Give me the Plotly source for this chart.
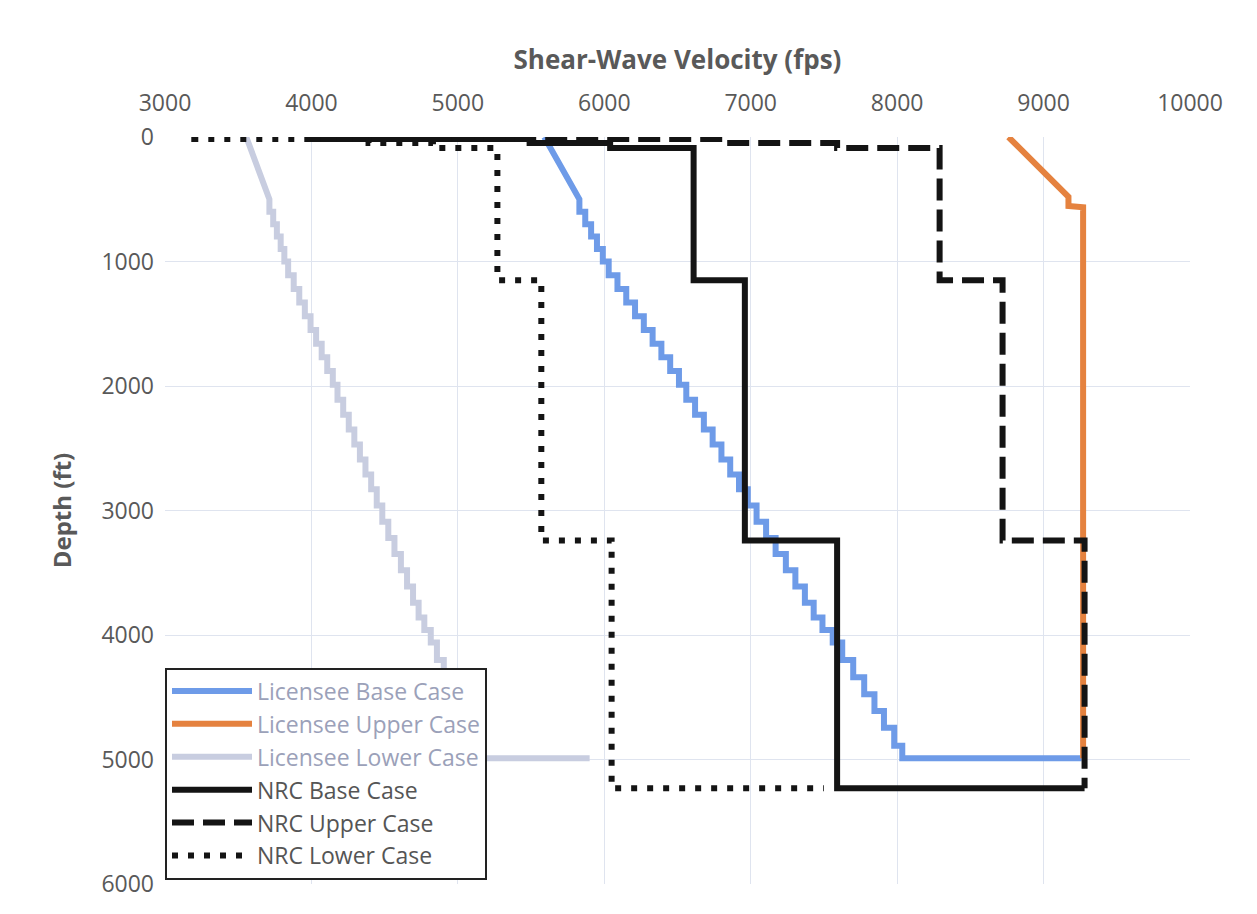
import plotly.graph_objects as go

# ---------------- data ----------------
# Licensee profiles: near-surface gradient points, then layered staircase
lic_grad_depth = [0, 500]
lic_base_grad_vel = [5590, 5830]
lic_lower_grad_vel = [3555, 3710]

lic_layer_tops = [500, 600, 700, 800, 900, 1000, 1110, 1220, 1330, 1440, 1550,
                  1660, 1770, 1880, 1990, 2110, 2230, 2350, 2470, 2590, 2710,
                  2830, 2960, 3090, 3220, 3350, 3480, 3610, 3740, 3860, 3960,
                  4060, 4200, 4340, 4475, 4610, 4745, 4890]
lic_base_vel = [5830, 5870, 5910, 5950, 5990, 6030, 6090, 6150, 6210, 6270, 6330,
                6390, 6450, 6510, 6560, 6620, 6680, 6740, 6800, 6860, 6920,
                6980, 7040, 7105, 7170, 7240, 7305, 7370, 7430, 7490, 7560,
                7625, 7700, 7775, 7845, 7910, 7980, 8035]
lic_lower_vel = [3713, 3739, 3764, 3790, 3815, 3841, 3879, 3917, 3955, 3994, 4032,
                 4070, 4108, 4146, 4178, 4217, 4255, 4293, 4331, 4369, 4408,
                 4446, 4484, 4525, 4567, 4611, 4653, 4694, 4732, 4771, 4815,
                 4857, 4904, 4952, 4997, 5038, 5083, 5118]
lic_bottom = 4990
lic_base_halfspace = 9260
lic_lower_halfspace = 5900

# Licensee upper case (capped), vertices
lic_upper_vel = [8760, 9150, 9170, 9170, 9270, 9270]
lic_upper_depth = [0, 470, 480, 555, 565, 4990]

# NRC profiles: layer tops and velocities
nrc_layer_tops = [0, 16, 48, 88, 1150, 3240]
nrc_bottom = 5230
nrc_base_vel = [3980, 5490, 6040, 6610, 6960, 7590]
nrc_upper_vel = [4975, 6860, 7590, 8290, 8720, 9280]
nrc_lower_vel = [3200, 4390, 4830, 5270, 5570, 6050]
nrc_base_halfspace = 9280
nrc_upper_halfspace = 9280
nrc_lower_halfspace = 7500

x_ticks = [3000, 4000, 5000, 6000, 7000, 8000, 9000, 10000]
x_tick_text = ["3000", "4000", "5000", "6000", "7000", "8000", "9000", "10000"]
y_ticks = [0, 1000, 2000, 3000, 4000, 5000, 6000]
y_tick_text = ["0", "1000", "2000", "3000", "4000", "5000", "6000"]


def staircase(tops, vels, bottom, halfspace, pre_x=None, pre_y=None):
    xs = list(pre_x) if pre_x else []
    ys = list(pre_y) if pre_y else []
    for i, (t, v) in enumerate(zip(tops, vels)):
        b = tops[i + 1] if i + 1 < len(tops) else bottom
        xs += [v, v]
        ys += [t, b]
    xs.append(halfspace)
    ys.append(bottom)
    return xs, ys


LIC_TXT = "#9ba1b9"
NRC_TXT = "#555555"

fig = go.Figure()

bx, by = staircase(lic_layer_tops, lic_base_vel, lic_bottom, lic_base_halfspace,
                   lic_base_grad_vel, lic_grad_depth)
fig.add_trace(go.Scatter(x=bx, y=by, mode="lines",
                         line=dict(color="#6e9be8", width=6),
                         name=f"<span style='color:{LIC_TXT}'>Licensee Base Case</span>",
                         legendgroup="a"))
fig.add_trace(go.Scatter(x=lic_upper_vel, y=lic_upper_depth, mode="lines",
                         line=dict(color="#e5823f", width=6),
                         name=f"<span style='color:{LIC_TXT}'>Licensee Upper Case</span>",
                         legendgroup="b"))
lx, ly = staircase(lic_layer_tops, lic_lower_vel, lic_bottom, lic_lower_halfspace,
                   lic_lower_grad_vel, lic_grad_depth)
fig.add_trace(go.Scatter(x=lx, y=ly, mode="lines",
                         line=dict(color="#c8cde0", width=6),
                         name=f"<span style='color:{LIC_TXT}'>Licensee Lower Case</span>",
                         legendgroup="c"))

nx, ny = staircase(nrc_layer_tops, nrc_base_vel, nrc_bottom, nrc_base_halfspace)
fig.add_trace(go.Scatter(x=nx, y=ny, mode="lines",
                         line=dict(color="#141414", width=6),
                         name=f"<span style='color:{NRC_TXT}'>NRC Base Case</span>",
                         legendgroup="d"))
ux, uy = staircase(nrc_layer_tops, nrc_upper_vel, nrc_bottom, nrc_upper_halfspace)
fig.add_trace(go.Scatter(x=ux, y=uy, mode="lines",
                         line=dict(color="#141414", width=6, dash="22px,9px"),
                         name=f"<span style='color:{NRC_TXT}'>NRC Upper Case</span>",
                         legendgroup="e"))
wx, wy = staircase(nrc_layer_tops, nrc_lower_vel, nrc_bottom, nrc_lower_halfspace)
fig.add_trace(go.Scatter(x=wx, y=wy, mode="lines",
                         line=dict(color="#141414", width=6, dash="6px,10px"),
                         name=f"<span style='color:{NRC_TXT}'>NRC Lower Case</span>",
                         legendgroup="f"))

FONT = "Open Sans"
fig.update_layout(
    width=1257, height=914,
    margin=dict(l=157, r=75, t=129, b=38, autoexpand=False),
    paper_bgcolor="white", plot_bgcolor="white",
    font=dict(family=FONT, color="#595959", size=20),
    showlegend=True,
    legend=dict(x=0.0, y=0.006, xanchor="left", yanchor="bottom",
                bgcolor="white", bordercolor="#222222", borderwidth=2,
                font=dict(family=FONT, size=23, color=NRC_TXT),
                traceorder="grouped", tracegroupgap=0,
                itemwidth=80),
    xaxis=dict(side="top", range=[3000, 10000], tickvals=x_ticks,
               ticktext=x_tick_text,
               showgrid=True, gridcolor="#dfe4ef", gridwidth=1,
               zeroline=False, showline=False,
               tickfont=dict(family=FONT, size=23, color="#595959"),
               ticklabelstandoff=20,
               title=dict(text="<b>Shear-Wave Velocity (fps)</b>",
                          font=dict(family=FONT, size=26, color="#595959"),
                          standoff=9)),
    yaxis=dict(range=[6000, 0], tickvals=y_ticks, ticktext=y_tick_text,
               showgrid=True, gridcolor="#dfe4ef", gridwidth=1,
               zeroline=False, showline=False,
               tickfont=dict(family=FONT, size=23, color="#595959"),
               ticklabelstandoff=10,
               title=dict(text="<b>Depth (ft)</b>",
                          font=dict(family=FONT, size=24, color="#595959"),
                          standoff=22)),
)

fig.write_html("out.html")
